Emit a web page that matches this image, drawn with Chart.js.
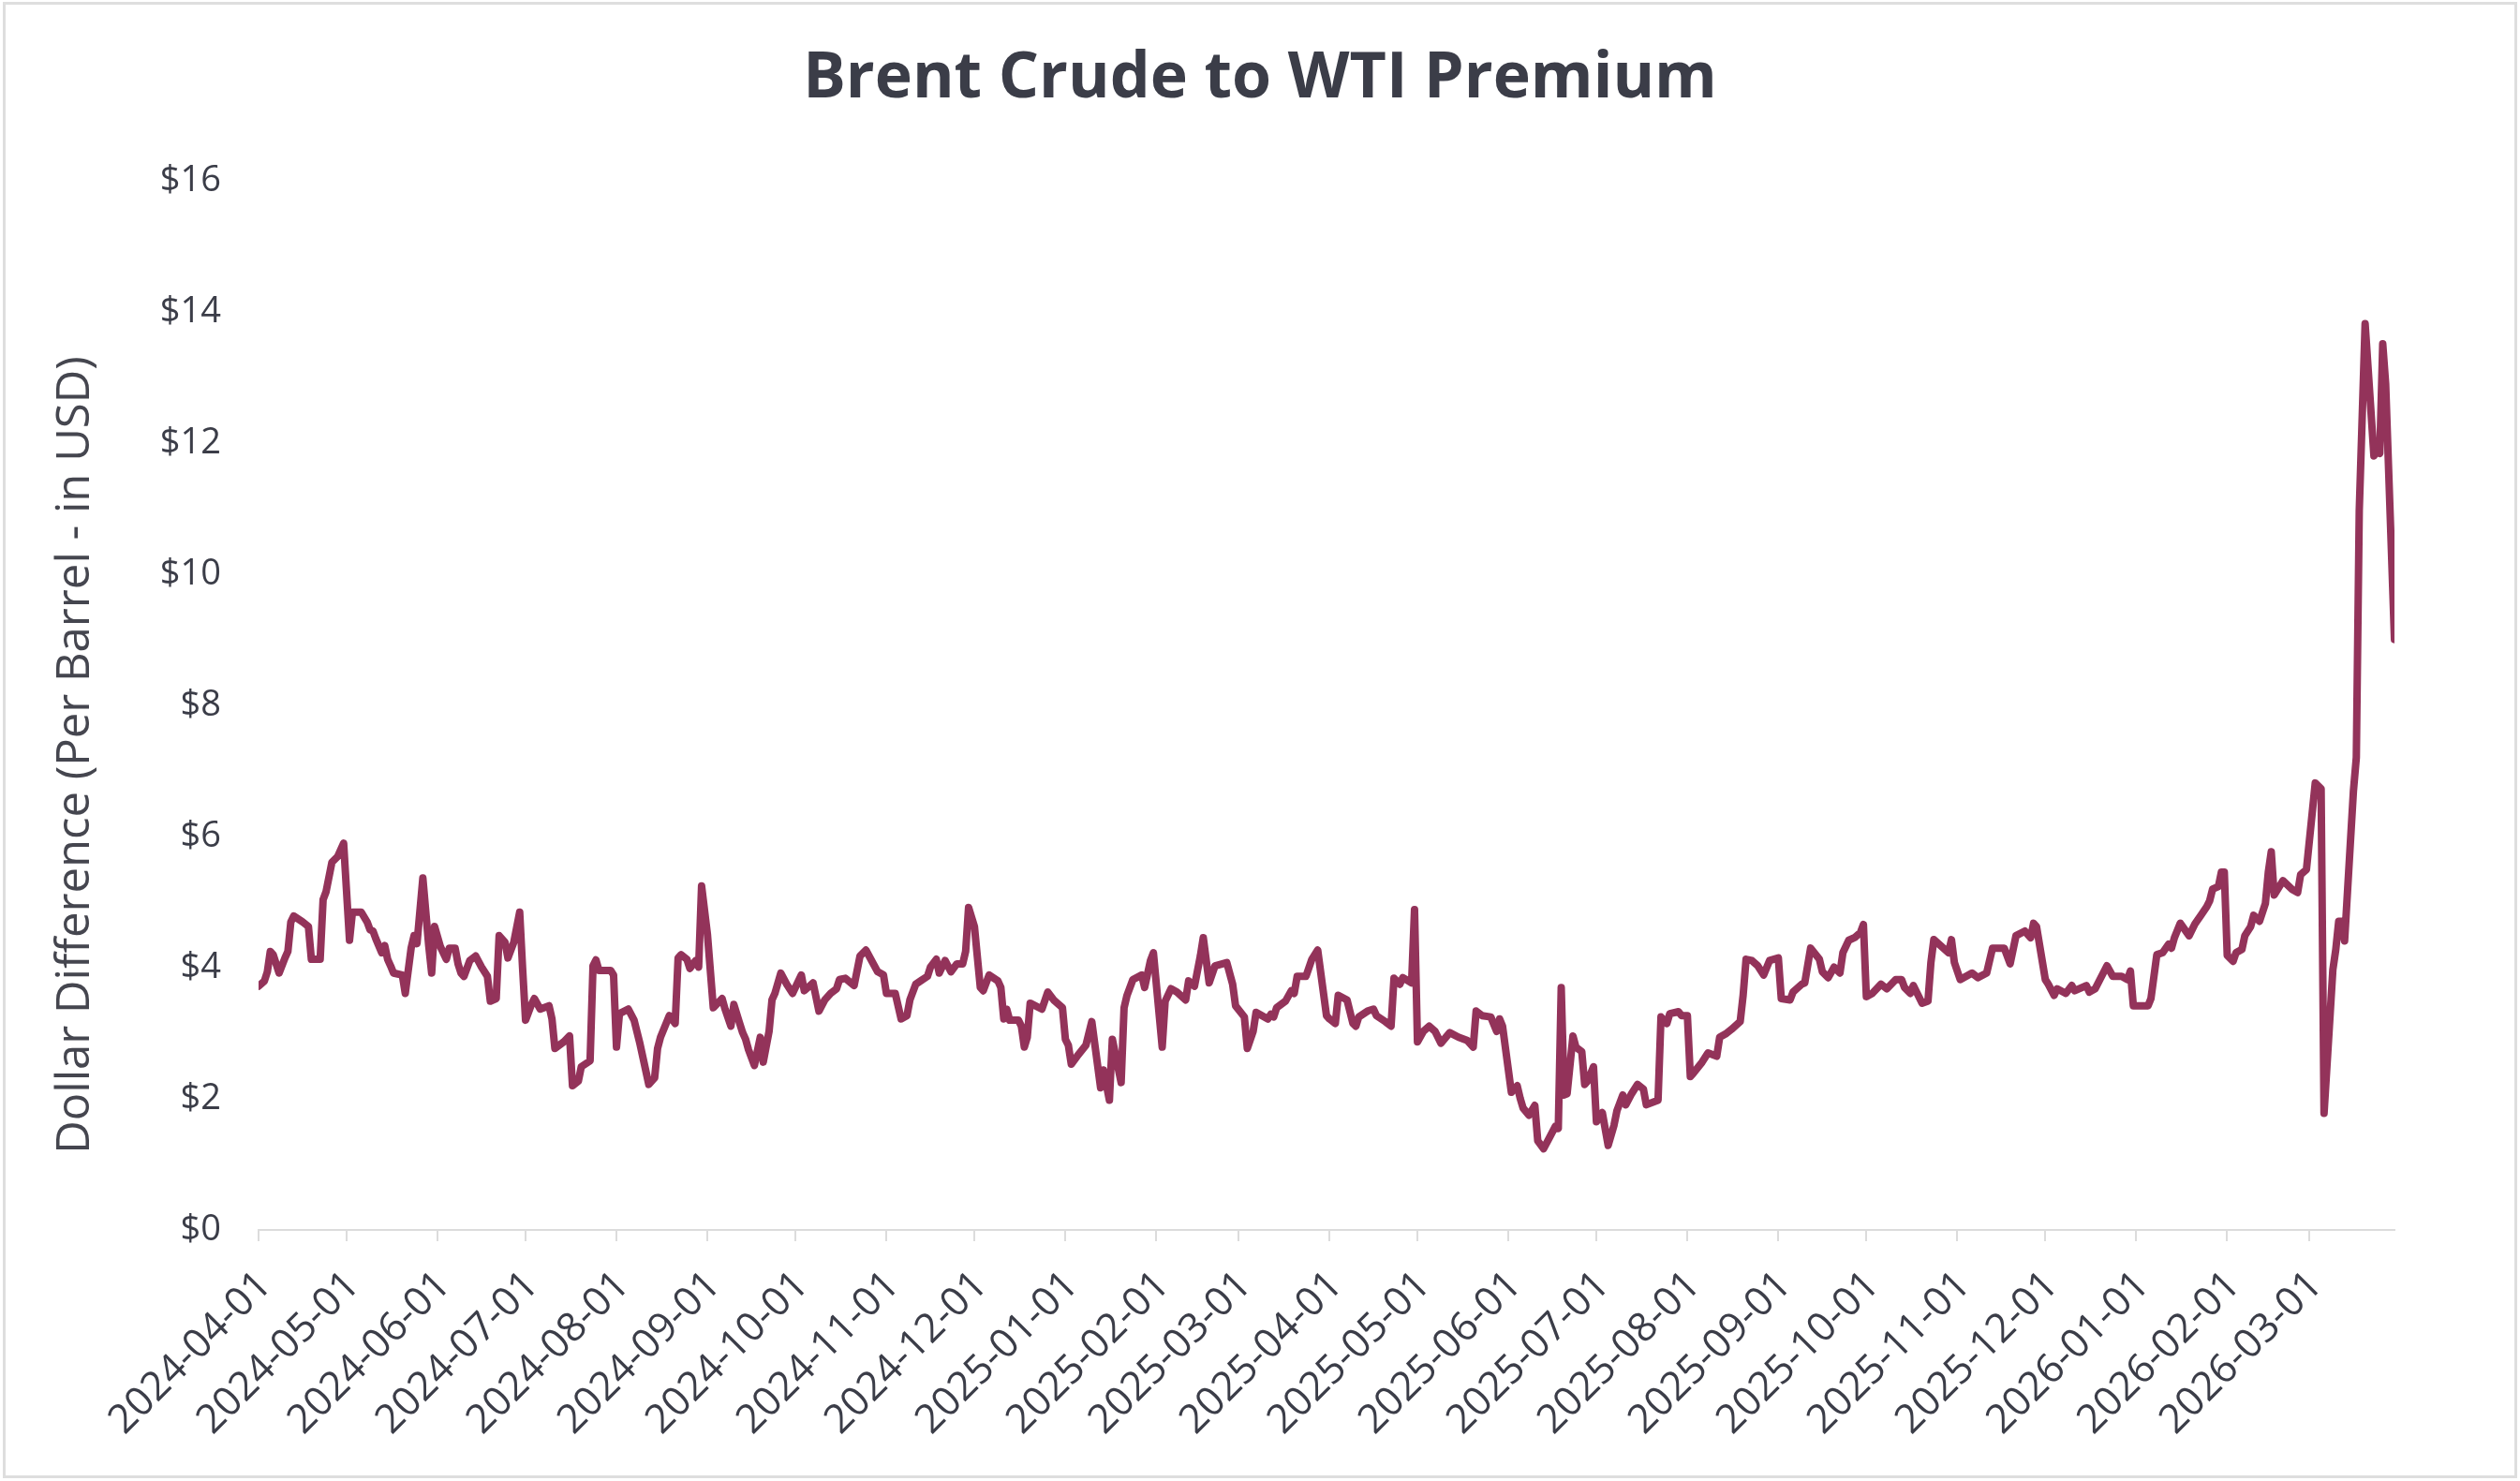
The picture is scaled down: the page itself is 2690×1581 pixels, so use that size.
<!DOCTYPE html>
<html>
<head>
<meta charset="utf-8">
<script src="https://cdn.jsdelivr.net/npm/chart.js@4.4.1/dist/chart.umd.min.js"></script>
<style>
  html, body { margin: 0; padding: 0; background: #ffffff; }
  canvas { display: block; }
</style>
</head>
<body>
<canvas id="chart" width="2690" height="1581"></canvas>
<script>
const chartTitle = 'Brent Crude to WTI Premium';
const yAxisTitle = 'Dollar Difference (Per Barrel - in USD)';
const seriesLabel = 'Brent - WTI';

const monthTicks = [
  '2024-04-01','2024-05-01','2024-06-01','2024-07-01','2024-08-01','2024-09-01',
  '2024-10-01','2024-11-01','2024-12-01','2025-01-01','2025-02-01','2025-03-01',
  '2025-04-01','2025-05-01','2025-06-01','2025-07-01','2025-08-01','2025-09-01',
  '2025-10-01','2025-11-01','2025-12-01','2026-01-01','2026-02-01','2026-03-01'
];
const yTickValues = [0, 2, 4, 6, 8, 10, 12, 14, 16];

const dates = [
  '2024-04-01','2024-04-03','2024-04-04','2024-04-05','2024-04-06','2024-04-08','2024-04-10','2024-04-11','2024-04-12','2024-04-13',
  '2024-04-16','2024-04-18','2024-04-19','2024-04-22','2024-04-23','2024-04-24','2024-04-26','2024-04-28','2024-04-29','2024-04-30',
  '2024-05-02','2024-05-03','2024-05-06','2024-05-08','2024-05-09','2024-05-10','2024-05-11','2024-05-13','2024-05-14','2024-05-15',
  '2024-05-16','2024-05-17','2024-05-20','2024-05-21','2024-05-23','2024-05-24','2024-05-25','2024-05-27','2024-05-29','2024-05-30',
  '2024-05-31','2024-06-02','2024-06-04','2024-06-05','2024-06-07','2024-06-08','2024-06-09','2024-06-10','2024-06-12','2024-06-14',
  '2024-06-16','2024-06-18','2024-06-19','2024-06-21','2024-06-22','2024-06-24','2024-06-25','2024-06-27','2024-06-29','2024-06-30',
  '2024-07-01','2024-07-03','2024-07-04','2024-07-06','2024-07-09','2024-07-10','2024-07-11','2024-07-14','2024-07-16','2024-07-17',
  '2024-07-19','2024-07-20','2024-07-23','2024-07-24','2024-07-25','2024-07-26','2024-07-30','2024-07-31','2024-08-01','2024-08-02',
  '2024-08-05','2024-08-07','2024-08-09','2024-08-12','2024-08-14','2024-08-15','2024-08-16','2024-08-19','2024-08-21','2024-08-22',
  '2024-08-23','2024-08-25','2024-08-26','2024-08-28','2024-08-29','2024-08-30','2024-09-01','2024-09-03','2024-09-06','2024-09-07',
  '2024-09-09','2024-09-10','2024-09-12','2024-09-13','2024-09-14','2024-09-15','2024-09-17','2024-09-19','2024-09-20','2024-09-22',
  '2024-09-23','2024-09-24','2024-09-26','2024-09-28','2024-09-30','2024-10-03','2024-10-04','2024-10-07','2024-10-09','2024-10-11',
  '2024-10-13','2024-10-15','2024-10-16','2024-10-18','2024-10-21','2024-10-23','2024-10-25','2024-10-29','2024-10-31','2024-11-01',
  '2024-11-04','2024-11-06','2024-11-08','2024-11-09','2024-11-11','2024-11-13','2024-11-15','2024-11-16','2024-11-18','2024-11-19',
  '2024-11-21','2024-11-23','2024-11-25','2024-11-27','2024-11-28','2024-11-29','2024-12-01','2024-12-03','2024-12-04','2024-12-06',
  '2024-12-09','2024-12-10','2024-12-11','2024-12-12','2024-12-13','2024-12-16','2024-12-17','2024-12-18','2024-12-19','2024-12-20',
  '2024-12-24','2024-12-26','2024-12-28','2024-12-31','2025-01-01','2025-01-02','2025-01-03','2025-01-05','2025-01-08','2025-01-10',
  '2025-01-13','2025-01-14','2025-01-16','2025-01-17','2025-01-20','2025-01-21','2025-01-22','2025-01-24','2025-01-27','2025-01-28',
  '2025-01-30','2025-01-31','2025-02-03','2025-02-04','2025-02-06','2025-02-08','2025-02-11','2025-02-12','2025-02-14','2025-02-16',
  '2025-02-17','2025-02-19','2025-02-21','2025-02-25','2025-02-27','2025-02-28','2025-03-03','2025-03-04','2025-03-06','2025-03-07',
  '2025-03-11','2025-03-12','2025-03-13','2025-03-14','2025-03-17','2025-03-19','2025-03-20','2025-03-21','2025-03-24','2025-03-26',
  '2025-03-28','2025-03-31','2025-04-01','2025-04-03','2025-04-04','2025-04-07','2025-04-09','2025-04-10','2025-04-11','2025-04-14',
  '2025-04-16','2025-04-17','2025-04-20','2025-04-22','2025-04-23','2025-04-25','2025-04-26','2025-04-29','2025-04-30','2025-05-01',
  '2025-05-03','2025-05-05','2025-05-07','2025-05-09','2025-05-12','2025-05-15','2025-05-18','2025-05-20','2025-05-21','2025-05-23',
  '2025-05-26','2025-05-28','2025-05-29','2025-05-30','2025-06-02','2025-06-04','2025-06-05','2025-06-06','2025-06-08','2025-06-10',
  '2025-06-11','2025-06-13','2025-06-15','2025-06-17','2025-06-18','2025-06-19','2025-06-20','2025-06-21','2025-06-23','2025-06-24',
  '2025-06-26','2025-06-27','2025-06-28','2025-06-30','2025-07-01','2025-07-03','2025-07-05','2025-07-07','2025-07-08','2025-07-10',
  '2025-07-11','2025-07-13','2025-07-15','2025-07-17','2025-07-18','2025-07-22','2025-07-23','2025-07-25','2025-07-26','2025-07-29',
  '2025-07-30','2025-08-01','2025-08-02','2025-08-03','2025-08-06','2025-08-08','2025-08-11','2025-08-12','2025-08-14','2025-08-16',
  '2025-08-19','2025-08-20','2025-08-21','2025-08-23','2025-08-25','2025-08-27','2025-08-29','2025-09-01','2025-09-02','2025-09-05',
  '2025-09-06','2025-09-09','2025-09-10','2025-09-12','2025-09-15','2025-09-16','2025-09-18','2025-09-20','2025-09-22','2025-09-23',
  '2025-09-25','2025-09-27','2025-09-29','2025-09-30','2025-10-01','2025-10-03','2025-10-06','2025-10-08','2025-10-11','2025-10-13',
  '2025-10-14','2025-10-16','2025-10-17','2025-10-20','2025-10-22','2025-10-23','2025-10-24','2025-10-28','2025-10-29','2025-10-30',
  '2025-10-31','2025-11-02','2025-11-06','2025-11-08','2025-11-11','2025-11-13','2025-11-17','2025-11-19','2025-11-21','2025-11-24',
  '2025-11-26','2025-11-27','2025-11-28','2025-12-01','2025-12-02','2025-12-04','2025-12-05','2025-12-08','2025-12-10','2025-12-11',
  '2025-12-15','2025-12-16','2025-12-18','2025-12-22','2025-12-24','2025-12-27','2025-12-29','2025-12-30','2025-12-31','2026-01-05',
  '2026-01-06','2026-01-08','2026-01-10','2026-01-12','2026-01-13','2026-01-14','2026-01-16','2026-01-19','2026-01-21','2026-01-23',
  '2026-01-25','2026-01-26','2026-01-27','2026-01-29','2026-01-30','2026-01-31','2026-02-01','2026-02-03','2026-02-04','2026-02-06',
  '2026-02-07','2026-02-09','2026-02-10','2026-02-12','2026-02-14','2026-02-15','2026-02-16','2026-02-17','2026-02-20','2026-02-23',
  '2026-02-25','2026-02-26','2026-02-28','2026-03-03','2026-03-05','2026-03-06','2026-03-09','2026-03-10','2026-03-11','2026-03-12',
  '2026-03-13','2026-03-16','2026-03-17','2026-03-18','2026-03-20','2026-03-23','2026-03-24','2026-03-25','2026-03-26','2026-03-27',
  '2026-03-30'
];

const premium = [
  3.72,3.80,3.94,4.25,4.20,3.92,4.15,4.25,4.70,4.79,
  4.70,4.63,4.13,4.13,5.04,5.16,5.61,5.70,5.80,5.90,
  4.42,4.85,4.85,4.70,4.58,4.56,4.44,4.23,4.34,4.13,
  4.03,3.92,3.89,3.61,4.30,4.49,4.37,5.37,4.34,3.92,
  4.63,4.32,4.13,4.30,4.30,4.06,3.92,3.87,4.11,4.18,
  4.01,3.87,3.49,3.53,4.49,4.39,4.15,4.39,4.85,3.99,
  3.20,3.44,3.53,3.37,3.42,3.22,2.77,2.87,2.96,2.20,
  2.27,2.49,2.58,4.03,4.12,3.96,3.96,3.89,2.79,3.30,
  3.37,3.20,2.84,2.22,2.32,2.77,2.94,3.27,3.15,4.15,
  4.20,4.13,3.99,4.11,4.01,5.25,4.51,3.39,3.53,3.37,
  3.11,3.44,3.15,3.01,2.91,2.75,2.51,2.94,2.56,3.03,
  3.51,3.61,3.92,3.75,3.61,3.89,3.65,3.77,3.34,3.51,
  3.61,3.68,3.82,3.84,3.73,4.18,4.27,3.94,3.89,3.61,
  3.61,3.22,3.27,3.51,3.75,3.81,3.87,4.01,4.13,3.92,
  4.11,3.94,4.06,4.06,4.25,4.92,4.63,3.70,3.65,3.89,
  3.80,3.70,3.22,3.37,3.20,3.20,3.11,2.79,2.94,3.46,
  3.37,3.63,3.51,3.39,2.91,2.82,2.53,2.65,2.82,3.18,
  2.17,2.44,1.98,2.91,2.25,3.39,3.58,3.82,3.89,3.70,
  4.11,4.23,2.79,3.49,3.68,3.63,3.51,3.80,3.72,4.18,
  4.46,3.77,4.03,4.08,3.75,3.42,3.25,2.77,3.03,3.32,
  3.22,3.29,3.25,3.39,3.49,3.65,3.61,3.87,3.87,4.13,
  4.27,3.27,3.22,3.15,3.58,3.51,3.15,3.11,3.25,3.34,
  3.37,3.27,3.18,3.11,3.84,3.75,3.85,3.77,4.89,2.87,
  3.03,3.11,3.03,2.85,3.01,2.94,2.89,2.79,3.34,3.27,
  3.25,3.03,3.22,3.11,2.10,2.20,2.01,1.86,1.75,1.90,
  1.36,1.24,1.41,1.58,1.55,3.70,2.06,2.08,2.96,2.79,
  2.72,2.22,2.27,2.49,1.65,1.79,1.29,1.60,1.82,2.06,
  1.91,2.08,2.22,2.15,1.91,1.98,3.25,3.15,3.30,3.33,
  3.27,3.27,2.34,2.39,2.56,2.70,2.65,2.94,2.99,3.06,
  3.18,3.58,4.13,4.11,4.03,3.89,4.11,4.15,3.53,3.51,
  3.63,3.75,3.77,4.30,4.13,3.94,3.85,4.01,3.92,4.23,
  4.42,4.46,4.54,4.66,3.56,3.61,3.75,3.68,3.82,3.82,
  3.70,3.61,3.73,3.46,3.49,4.08,4.43,4.27,4.23,4.43,
  4.08,3.82,3.92,3.85,3.92,4.30,4.30,4.06,4.49,4.56,
  4.46,4.68,4.63,3.82,3.75,3.58,3.68,3.61,3.73,3.65,
  3.73,3.63,3.68,4.03,3.87,3.87,3.82,3.95,3.42,3.42,
  3.53,4.20,4.23,4.36,4.30,4.46,4.68,4.49,4.67,4.80,
  4.93,5.02,5.20,5.24,5.46,5.46,4.19,4.10,4.23,4.28,
  4.49,4.63,4.80,4.71,4.98,5.46,5.77,5.11,5.33,5.20,
  5.15,5.42,5.50,6.82,6.73,1.78,3.97,4.28,4.71,4.71,
  4.41,6.69,7.21,10.98,13.83,11.81,11.90,11.85,13.52,12.91,
  9.01
];

const DAY_MS = 86400000;
const originMs = Date.parse(monthTicks[0]);
const dayIndex = (s) => Math.round((Date.parse(s) - originMs) / DAY_MS);

const points = dates.map((d, i) => ({ x: dayIndex(d), y: premium[i] }));
const tickDays = monthTicks.map(dayIndex);

const textColor = '#3b3d48';
const lineColor = '#93335a';
const axisLineColor = '#dcdcdc';

const framePlugin = {
  id: 'frame',
  beforeDraw(chart) {
    const ctx = chart.ctx;
    ctx.save();
    ctx.fillStyle = '#ffffff';
    ctx.fillRect(0, 0, chart.width, chart.height);
    ctx.restore();
  },
  afterDraw(chart) {
    const ctx = chart.ctx;
    ctx.save();
    ctx.strokeStyle = '#dedede';
    ctx.lineWidth = 3;
    ctx.strokeRect(4.5, 3.5, chart.width - 9, chart.height - 8);
    // y-axis title
    ctx.translate(81, 806);
    ctx.rotate(-Math.PI / 2);
    ctx.fillStyle = '#45464f';
    ctx.font = '49px "Open Sans"';
    ctx.textAlign = 'center';
    ctx.textBaseline = 'middle';
    ctx.fillText(yAxisTitle, 0, 0);
    ctx.restore();
  }
};

new Chart(document.getElementById('chart'), {
  type: 'line',
  data: {
    datasets: [{
      label: seriesLabel,
      data: points,
      borderColor: lineColor,
      backgroundColor: lineColor,
      borderWidth: 8,
      pointRadius: 0,
      pointHoverRadius: 0,
      tension: 0,
      borderJoinStyle: 'round',
      borderCapStyle: 'round',
      fill: false
    }]
  },
  options: {
    responsive: false,
    animation: false,
    layout: { padding: { left: 0, right: 0, top: 0, bottom: 0 } },
    plugins: {
      legend: { display: false },
      tooltip: { enabled: false },
      title: {
        display: true,
        text: chartTitle,
        color: textColor,
        font: { family: '"Open Sans"', size: 68, weight: 'bold', lineHeight: 1.2 },
        padding: { top: 44, bottom: 68 }
      }
    },
    scales: {
      x: {
        type: 'linear',
        min: 0,
        max: dayIndex(dates[dates.length - 1]),
        afterBuildTicks(scale) {
          scale.ticks = tickDays.map(v => ({ value: v }));
        },
        afterFit(scale) { scale.height = 268; },
        ticks: {
          autoSkip: false,
          maxRotation: 45,
          minRotation: 45,
          padding: 22,
          labelOffset: 7,
          color: textColor,
          font: { family: '"Open Sans"', size: 43 },
          callback: (value, index) => monthTicks[index]
        },
        grid: {
          drawOnChartArea: false,
          drawTicks: true,
          tickLength: 12,
          color: axisLineColor,
          lineWidth: 2
        },
        border: { display: true, color: axisLineColor, width: 2 }
      },
      y: {
        min: 0,
        max: 16,
        afterBuildTicks(scale) {
          scale.ticks = yTickValues.map(v => ({ value: v }));
        },
        afterFit(scale) { scale.width = 276; },
        ticks: {
          padding: 40,
          color: textColor,
          font: { family: '"Open Sans"', size: 38 },
          callback: (value) => '$' + value
        },
        grid: { display: false, drawTicks: false },
        border: { display: false }
      },
      rightGutter: {
        position: 'right',
        display: true,
        afterFit(scale) { scale.width = 134; },
        ticks: { display: false },
        grid: { display: false, drawTicks: false },
        border: { display: false }
      }
    }
  },
  plugins: [framePlugin]
});
</script>
</body>
</html>
